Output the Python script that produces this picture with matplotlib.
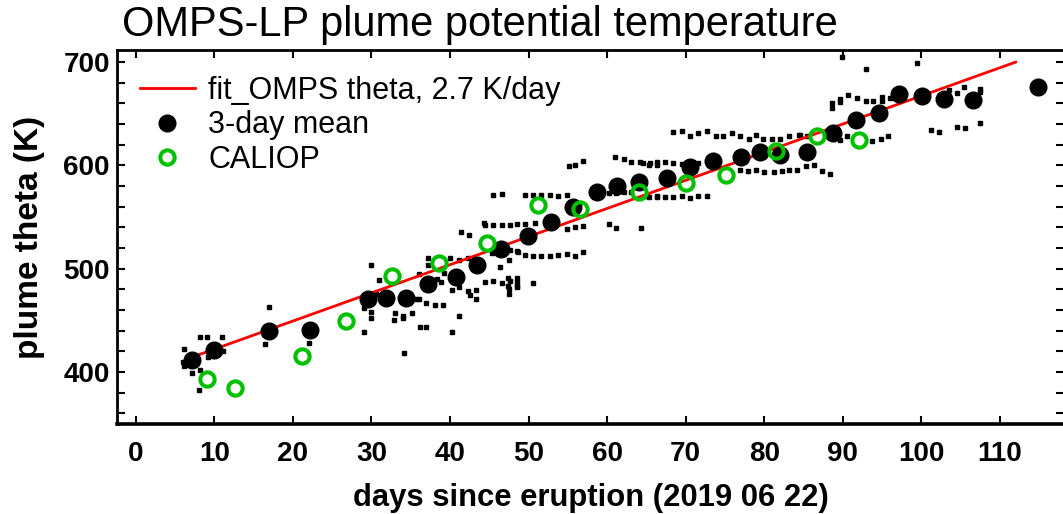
import matplotlib
matplotlib.use("Agg")
import matplotlib.pyplot as plt
from matplotlib.ticker import MultipleLocator

plt.rcParams['font.family'] = ['Liberation Sans', 'DejaVu Sans']

# individual OMPS-LP plume heights (days since eruption, potential temperature K)
omps_day = [
    6.1, 6.0, 6.1, 8.2, 9.1, 11.0, 7.1, 8.2, 8.1, 9.2, 11.1, 16.5, 16.9, 22.1,
    29.9, 30.9, 30.6, 29.0, 30.0, 30.0, 29.0, 33.0, 34.0, 34.0, 35.1, 32.9,
    35.7, 36.0, 36.1, 37.0, 38.1, 39.1, 36.2, 37.0, 37.2, 37.2, 38.3, 38.9,
    39.2, 40.2, 41.1, 41.2, 40.0, 42.3, 41.2, 40.3, 34.2, 42.3, 42.5, 43.3,
    43.3, 41.4, 42.4,
    44.5, 45.5, 46.6, 47.6, 48.5, 44.3, 49.6, 50.8, 45.5, 46.6,
    44.5, 45.5, 46.6, 47.6, 48.5, 46.4, 47.5, 48.5, 45.4, 47.5, 47.5, 48.5,
    50.6, 47.4, 48.5, 47.4, 48.5,
    49.6, 50.6, 51.6, 52.7, 53.8, 54.9, 55.2, 55.9, 56.9, 61.0, 62.1, 63.1,
    64.2, 65.3, 66.3, 46.7, 47.6, 48.6, 49.6, 50.6, 51.6, 52.7, 53.8, 54.9,
    55.9, 56.9, 54.9, 55.9, 56.9, 60.2, 61.1, 64.3, 60.2, 61.1, 62.1, 63.1,
    65.1, 66.3,
    68.4, 69.5, 70.6, 71.6, 72.7, 73.8, 74.8, 75.9, 76.9, 78.0, 79.0, 79.9,
    81.0, 82.0, 83.2, 84.4,
    64.6, 65.4, 66.3, 67.4, 68.4, 69.5, 70.6, 71.6,
    76.9, 77.9, 79.0, 80.0, 81.2, 82.2, 83.2, 84.2, 85.3, 86.3, 87.3, 88.4,
    65.3, 66.3, 67.4, 68.4, 69.5, 70.6, 71.6, 72.7,
    89.9, 92.9, 99.4, 88.6, 88.6, 89.7, 89.7, 90.7, 91.8, 92.9, 93.9, 95.0,
    95.0, 96.0, 84.6, 85.4, 89.7, 90.5, 93.7, 94.8, 95.8,
    105.4, 104.5, 107.5, 107.5, 103.5, 101.2, 102.3, 104.5, 105.5, 107.5,
]
omps_theta = [
    422, 410, 406, 434, 434, 434, 399, 402, 383, 415, 420, 427, 463, 428,
    504, 489, 476, 462, 458, 452, 439, 457, 454, 452, 457, 450,
    471, 495, 471, 467, 465, 465, 444, 444, 510, 504, 490, 487,
    496, 479, 482, 508, 510, 510, 454, 439, 418, 478, 475, 479,
    471, 536, 533,
    542, 542, 542, 542, 543, 544, 543, 544, 571, 572,
    487, 488, 486, 488, 487, 502, 508, 517, 515, 480, 476, 482,
    486, 491, 491, 483, 483,
    571, 571, 571, 571, 570, 571, 599, 600, 604, 608, 606, 603,
    603, 600, 600, 518, 518, 516, 513, 512, 512, 512, 513, 514,
    512, 516, 538, 540, 541, 543, 539, 539, 573, 573, 574, 574,
    570, 570,
    632, 633, 628, 631, 633, 628, 628, 631, 628, 626, 629, 626,
    626, 626, 628, 629,
    602, 602, 603, 603, 602, 601, 599, 602,
    596, 595, 596, 594, 594, 595, 596, 596, 599, 600, 595, 592,
    569, 569, 569, 569, 570, 568, 570, 570,
    705, 693, 699, 660, 656, 664, 661, 668, 665, 662, 662, 666,
    662, 665, 629, 628, 625, 628, 624, 626, 628,
    676, 670, 674, 671, 673, 634, 632, 637, 636, 641,
]

# 3-day means
mean_day = [7.2, 10.0, 16.9, 22.2, 29.6, 31.8, 34.4, 37.2, 40.7, 43.4, 46.5,
            49.9, 52.8, 55.7, 58.7, 61.3, 64.1, 67.6, 70.6, 73.5, 77.1, 79.5,
            82.0, 85.4, 88.7, 91.7, 94.6, 97.1, 100.1, 102.9, 106.6, 114.9]
mean_theta = [412, 421, 440, 441, 471, 472, 472, 485, 492, 504, 519,
              532, 545, 560, 574, 580, 584, 588, 598, 604, 608, 613,
              610, 613, 631, 644, 651, 669, 667, 664, 663, 676]

# CALIOP
caliop_day = [9.1, 12.6, 21.2, 26.8, 32.6, 38.6, 44.7, 51.2, 56.6, 64.1,
              70.1, 75.1, 81.5, 86.7, 92.1]
caliop_theta = [393, 385, 416, 449, 493, 506, 525, 562, 558, 574,
                583, 591, 614, 628, 625]

# linear fit, 2.7 K/day
fit_day = [7.0, 112.0]
fit_theta = [414.0, 700.0]

fig = plt.figure(figsize=(10.63, 5.14), dpi=100)
ax = fig.add_axes([0.110, 0.175, 0.8909, 0.7275])

ax.plot(omps_day, omps_theta, 's', color='black', markersize=2.6, zorder=2)
ax.plot(fit_day, fit_theta, '-', color='red', lw=2, zorder=3,
        label='fit_OMPS theta, 2.7 K/day')
ax.plot(mean_day, mean_theta, 'o', color='black', markersize=12, zorder=4,
        label='3-day mean')
ax.plot(caliop_day, caliop_theta, 'o', markerfacecolor='none',
        markeredgecolor='#00c000', markeredgewidth=2.9, markersize=10.3,
        zorder=5, label='CALIOP')

ax.set_xlim(-2.4, 118.15)
ax.set_ylim(349.7, 711.6)
ax.xaxis.set_major_locator(MultipleLocator(10))
ax.yaxis.set_major_locator(MultipleLocator(100))
ax.yaxis.set_minor_locator(MultipleLocator(20))

ax.tick_params(which='both', direction='in', top=True, right=True,
               length=6, width=1.5)
ax.tick_params(axis='x', labelsize=20, pad=12)
ax.tick_params(axis='y', labelsize=20, pad=5)
for lab in ax.get_xticklabels() + ax.get_yticklabels():
    lab.set_fontweight('bold')
for s in ax.spines.values():
    s.set_linewidth(2)
ax.spines['bottom'].set_linewidth(2.6)

ax.set_xlabel('days since eruption (2019 06 22)', fontsize=22.3,
              fontweight='bold', labelpad=12)
ax.set_ylabel('plume theta (K)', fontsize=24, fontweight='bold')
ax.yaxis.set_label_coords(-0.076, 0.5)
fig.text(0.115, 0.93, 'OMPS-LP plume potential temperature', fontsize=30,
         ha='left', va='baseline')

ax.legend(loc='upper left', frameon=False, fontsize=22, handlelength=1.8,
          handletextpad=0.45, labelspacing=0.15, borderaxespad=0.5,
          bbox_to_anchor=(-0.005, 1.005))

fig.savefig('out.png', dpi=100)
